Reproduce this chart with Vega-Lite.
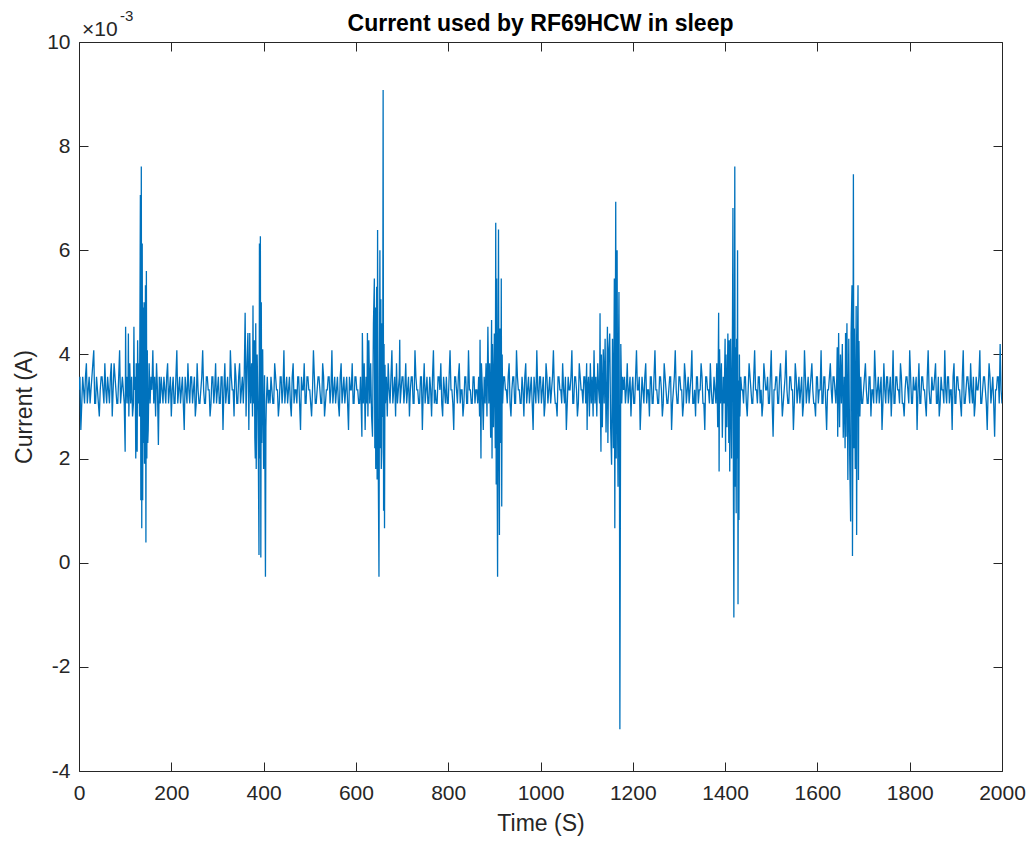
{
 "$schema": "https://vega.github.io/schema/vega-lite/v6.json",
 "width": 923, "height": 729,
 "autosize": "none",
 "padding": {"left": 79, "top": 42, "right": 29, "bottom": 71},
 "background": "white",
 "config": {"view": {"stroke": null},
  "axis": {"domainColor": "#262626", "tickColor": "#262626", "labelColor": "#262626", "titleColor": "#262626", "labelFont": "Liberation Sans", "titleFont": "Liberation Sans", "labelFontSize": 21, "titleFontSize": 23, "titleFontWeight": "normal", "grid": false, "domainWidth": 1, "tickWidth": 1}},
 "data": {"values": [
{"t":0,"i":0.00332},{"t":2,"i":0.00357},{"t":4,"i":0.00255},{"t":6,"i":0.00306},{"t":8,"i":0.00357},{"t":10,"i":0.00332},{"t":12,"i":0.00306},{"t":14,"i":0.00357},{"t":16,"i":0.00383},{"t":18,"i":0.00306},{"t":20,"i":0.00332},{"t":22,"i":0.00357},{"t":24,"i":0.00306},{"t":26,"i":0.00332},{"t":28,"i":0.00357},{"t":30,"i":0.00383},{"t":32,"i":0.00408},{"t":34,"i":0.00306},{"t":36,"i":0.00306},{"t":38,"i":0.00357},{"t":40,"i":0.00332},{"t":42,"i":0.00306},{"t":44,"i":0.00281},{"t":46,"i":0.00332},{"t":48,"i":0.00357},{"t":50,"i":0.00357},{"t":52,"i":0.00332},{"t":54,"i":0.00306},{"t":56,"i":0.00383},{"t":58,"i":0.00332},{"t":60,"i":0.00306},{"t":62,"i":0.00357},{"t":64,"i":0.00332},{"t":66,"i":0.00306},{"t":68,"i":0.00357},{"t":70,"i":0.00383},{"t":72,"i":0.00281},{"t":74,"i":0.00332},{"t":76,"i":0.00383},{"t":78,"i":0.00357},{"t":80,"i":0.00332},{"t":82,"i":0.00306},{"t":84,"i":0.00306},{"t":86,"i":0.00357},{"t":88,"i":0.00408},{"t":90,"i":0.00306},{"t":92,"i":0.00332},{"t":94,"i":0.00357},
{"t":96,"i":0.00332},{"t":98,"i":0.00306},{"t":100,"i":0.00213},{"t":101,"i":0.00453},{"t":102,"i":0.00306},{"t":104,"i":0.00357},{"t":106,"i":0.00306},{"t":107,"i":0.0044},{"t":108,"i":0.00281},{"t":110,"i":0.00383},{"t":112,"i":0.00306},{"t":114,"i":0.00357},{"t":116,"i":0.00281},{"t":118,"i":0.00306},{"t":119,"i":0.00453},{"t":120,"i":0.00332},{"t":122,"i":0.00357},{"t":123,"i":0.002},{"t":124,"i":0.00383},{"t":126,"i":0.00213},{"t":127,"i":0.00427},{"t":128,"i":0.00357},{"t":129,"i":0.00306},{"t":130,"i":0.00383},{"t":131,"i":0.00281},{"t":132,"i":0.00466},{"t":133,"i":0.00706},{"t":134,"i":0.0012},{"t":135,"i":0.00761},{"t":136,"i":0.00066},{"t":137,"i":0.00613},{"t":138,"i":0.0012},{"t":139,"i":0.0049},{"t":140,"i":0.0023},{"t":141,"i":0.005},{"t":142,"i":0.0019},{"t":143,"i":0.0026},{"t":144,"i":0.00533},{"t":145,"i":0.00039},{"t":146,"i":0.0056},{"t":147,"i":0.002},{"t":148,"i":0.00408},{"t":149,"i":0.0023},{"t":150,"i":0.00255},{"t":152,"i":0.00383},{"t":154,"i":0.00306},{"t":156,"i":0.00357},{"t":158,"i":0.00332},{"t":160,"i":0.00408},{"t":162,"i":0.00306},{"t":164,"i":0.00357},{"t":166,"i":0.00281},{"t":168,"i":0.00383},{"t":170,"i":0.00332},{"t":172,"i":0.00226},{"t":174,"i":0.00357},{"t":176,"i":0.00306},{"t":178,"i":0.00357},
{"t":180,"i":0.00332},{"t":182,"i":0.00306},{"t":184,"i":0.00357},{"t":186,"i":0.00332},{"t":188,"i":0.00306},{"t":190,"i":0.00357},{"t":192,"i":0.00383},{"t":194,"i":0.00306},{"t":196,"i":0.00332},{"t":198,"i":0.00357},{"t":200,"i":0.00281},{"t":202,"i":0.00332},{"t":204,"i":0.00357},{"t":206,"i":0.00306},{"t":208,"i":0.00306},{"t":210,"i":0.00357},{"t":212,"i":0.00408},{"t":214,"i":0.00306},{"t":216,"i":0.00332},{"t":218,"i":0.00357},{"t":220,"i":0.00306},{"t":222,"i":0.00332},{"t":224,"i":0.00357},{"t":226,"i":0.00306},{"t":228,"i":0.00255},{"t":230,"i":0.00357},{"t":232,"i":0.00332},{"t":234,"i":0.00306},{"t":236,"i":0.00383},{"t":238,"i":0.00332},{"t":240,"i":0.00306},{"t":242,"i":0.00357},{"t":244,"i":0.00357},{"t":246,"i":0.00306},{"t":248,"i":0.00332},{"t":250,"i":0.00357},{"t":252,"i":0.00281},{"t":254,"i":0.00306},{"t":256,"i":0.00383},{"t":258,"i":0.00332},{"t":260,"i":0.00306},{"t":262,"i":0.00306},{"t":264,"i":0.00332},{"t":266,"i":0.00357},{"t":268,"i":0.00408},{"t":270,"i":0.00332},{"t":272,"i":0.00306},{"t":274,"i":0.00306},{"t":276,"i":0.00357},{"t":278,"i":0.00357},{"t":280,"i":0.00332},{"t":282,"i":0.00332},{"t":284,"i":0.00281},{"t":286,"i":0.00306},{"t":288,"i":0.00357},{"t":290,"i":0.00357},{"t":292,"i":0.00306},{"t":294,"i":0.00332},{"t":296,"i":0.00383},{"t":298,"i":0.00306},{"t":300,"i":0.00332},{"t":302,"i":0.00357},{"t":304,"i":0.00306},{"t":306,"i":0.00306},{"t":308,"i":0.00357},{"t":310,"i":0.00357},{"t":312,"i":0.00255},{"t":314,"i":0.00332},{"t":316,"i":0.00383},{"t":318,"i":0.00306},{"t":320,"i":0.00332},{"t":322,"i":0.00357},{"t":324,"i":0.00306},{"t":326,"i":0.00306},{"t":328,"i":0.00408},{"t":330,"i":0.00357},{"t":332,"i":0.00332},{"t":334,"i":0.00332},{"t":336,"i":0.00281},{"t":338,"i":0.00383},{"t":340,"i":0.00357},{"t":342,"i":0.00306},{"t":344,"i":0.00306},{"t":346,"i":0.00357},{"t":348,"i":0.00383},{"t":350,"i":0.00306},{"t":352,"i":0.00332},{"t":354,"i":0.00357},
{"t":356,"i":0.00306},{"t":358,"i":0.00357},{"t":360,"i":0.0048},{"t":362,"i":0.00281},{"t":364,"i":0.00383},{"t":366,"i":0.00441},{"t":368,"i":0.00255},{"t":370,"i":0.00441},{"t":372,"i":0.00306},{"t":374,"i":0.00383},{"t":376,"i":0.00281},{"t":377,"i":0.00494},{"t":378,"i":0.00306},{"t":380,"i":0.00427},{"t":381,"i":0.0024},{"t":382,"i":0.002},{"t":383,"i":0.0046},{"t":384,"i":0.0018},{"t":386,"i":0.004},{"t":388,"i":0.0029},{"t":390,"i":0.00015},{"t":391,"i":0.00613},{"t":392,"i":0.002},{"t":393,"i":0.00627},{"t":394,"i":0.0001},{"t":395,"i":0.005},{"t":396,"i":0.0023},{"t":398,"i":0.0041},{"t":400,"i":0.0018},{"t":402,"i":0.0036},{"t":404,"i":-0.00027},{"t":405,"i":0.0026},{"t":406,"i":0.0031},{"t":408,"i":0.00357},{"t":410,"i":0.00306},{"t":412,"i":0.00332},{"t":414,"i":0.00306},
{"t":416,"i":0.00357},{"t":418,"i":0.00332},{"t":420,"i":0.00306},{"t":422,"i":0.00306},{"t":424,"i":0.00383},{"t":426,"i":0.00357},{"t":428,"i":0.00332},{"t":430,"i":0.00332},{"t":432,"i":0.00281},{"t":434,"i":0.00306},{"t":436,"i":0.00357},{"t":438,"i":0.00357},{"t":440,"i":0.00306},{"t":442,"i":0.00332},{"t":444,"i":0.00408},{"t":446,"i":0.00306},{"t":448,"i":0.00332},{"t":450,"i":0.00357},{"t":452,"i":0.00306},{"t":454,"i":0.00332},{"t":456,"i":0.00357},{"t":458,"i":0.00306},{"t":460,"i":0.00281},{"t":462,"i":0.00357},{"t":464,"i":0.00383},{"t":466,"i":0.00306},{"t":468,"i":0.00332},{"t":470,"i":0.00332},{"t":472,"i":0.00306},{"t":474,"i":0.00357},{"t":476,"i":0.00357},{"t":478,"i":0.00306},{"t":480,"i":0.00255},{"t":482,"i":0.00357},{"t":484,"i":0.00332},{"t":486,"i":0.00332},{"t":488,"i":0.00383},{"t":490,"i":0.00306},{"t":492,"i":0.00306},{"t":494,"i":0.00357},{"t":496,"i":0.00357},{"t":498,"i":0.00332},{"t":500,"i":0.00332},{"t":502,"i":0.00306},{"t":504,"i":0.00281},{"t":506,"i":0.00332},{"t":508,"i":0.00408},{"t":510,"i":0.00357},{"t":512,"i":0.00306},{"t":514,"i":0.00306},{"t":516,"i":0.00332},{"t":518,"i":0.00357},{"t":520,"i":0.00357},{"t":522,"i":0.00332},{"t":524,"i":0.00306},{"t":526,"i":0.00306},{"t":528,"i":0.00383},{"t":530,"i":0.00357},{"t":532,"i":0.00281},{"t":534,"i":0.00306},{"t":536,"i":0.00332},{"t":538,"i":0.00332},{"t":540,"i":0.00357},{"t":542,"i":0.00357},{"t":544,"i":0.00306},{"t":546,"i":0.00332},{"t":548,"i":0.00408},{"t":550,"i":0.00306},{"t":552,"i":0.00332},{"t":554,"i":0.00357},{"t":556,"i":0.00306},{"t":558,"i":0.00332},{"t":560,"i":0.00357},{"t":562,"i":0.00306},{"t":564,"i":0.00281},{"t":566,"i":0.00357},{"t":568,"i":0.00383},{"t":570,"i":0.00306},{"t":572,"i":0.00332},{"t":574,"i":0.00357},{"t":576,"i":0.00306},{"t":578,"i":0.00332},{"t":580,"i":0.00357},{"t":582,"i":0.00306},{"t":584,"i":0.00255},{"t":586,"i":0.00357},{"t":588,"i":0.00332},{"t":590,"i":0.00332},{"t":592,"i":0.00383},{"t":594,"i":0.00306},{"t":596,"i":0.00306},{"t":598,"i":0.00357},{"t":600,"i":0.00357},{"t":602,"i":0.00332},{"t":604,"i":0.00332},{"t":606,"i":0.00306},
{"t":608,"i":0.00306},{"t":610,"i":0.00357},{"t":612,"i":0.00281},{"t":613,"i":0.00242},{"t":614,"i":0.00441},{"t":616,"i":0.00306},{"t":618,"i":0.00383},{"t":620,"i":0.00255},{"t":622,"i":0.00357},{"t":624,"i":0.00306},{"t":625,"i":0.00441},{"t":626,"i":0.00281},{"t":628,"i":0.00427},{"t":630,"i":0.00306},{"t":632,"i":0.00383},{"t":634,"i":0.00281},{"t":636,"i":0.00242},{"t":638,"i":0.0046},{"t":640,"i":0.00546},{"t":641,"i":0.0022},{"t":642,"i":0.0049},{"t":643,"i":0.0018},{"t":645,"i":0.0053},{"t":646,"i":0.0016},{"t":647,"i":0.00639},{"t":648,"i":0.0025},{"t":650,"i":-0.00027},{"t":651,"i":0.0035},{"t":652,"i":0.006},{"t":653,"i":0.0022},{"t":654,"i":0.00506},{"t":655,"i":0.0018},{"t":656,"i":0.00213},{"t":657,"i":0.0046},{"t":658,"i":0.0028},{"t":659,"i":0.00908},{"t":660,"i":0.001},{"t":661,"i":0.0042},{"t":662,"i":0.00066},{"t":663,"i":0.0038},{"t":664,"i":0.00306},{"t":666,"i":0.00357},{"t":668,"i":0.00281},{"t":670,"i":0.00383},{"t":672,"i":0.00332},{"t":674,"i":0.00306},{"t":676,"i":0.00357},{"t":678,"i":0.00408},{"t":680,"i":0.00306},{"t":682,"i":0.00332},{"t":684,"i":0.00357},{"t":686,"i":0.00281},{"t":688,"i":0.00383},{"t":690,"i":0.00306},{"t":692,"i":0.00332},{"t":694,"i":0.00357},{"t":695,"i":0.00428},{"t":696,"i":0.00306},{"t":698,"i":0.00332},{"t":700,"i":0.00357},
{"t":702,"i":0.00357},{"t":704,"i":0.00306},{"t":706,"i":0.00332},{"t":708,"i":0.00383},{"t":710,"i":0.00306},{"t":712,"i":0.00332},{"t":714,"i":0.00357},{"t":716,"i":0.00281},{"t":718,"i":0.00332},{"t":720,"i":0.00357},{"t":722,"i":0.00357},{"t":724,"i":0.00306},{"t":726,"i":0.00306},{"t":728,"i":0.00408},{"t":730,"i":0.00357},{"t":732,"i":0.00332},{"t":734,"i":0.00332},{"t":736,"i":0.00306},{"t":738,"i":0.00306},{"t":740,"i":0.00357},{"t":742,"i":0.00357},{"t":744,"i":0.00255},{"t":746,"i":0.00332},{"t":748,"i":0.00383},{"t":750,"i":0.00306},{"t":752,"i":0.00332},{"t":754,"i":0.00357},{"t":756,"i":0.00306},{"t":758,"i":0.00306},{"t":760,"i":0.00357},{"t":762,"i":0.00332},{"t":764,"i":0.00281},{"t":766,"i":0.00357},{"t":768,"i":0.00408},{"t":770,"i":0.00306},{"t":772,"i":0.00332},{"t":774,"i":0.00306},{"t":776,"i":0.00306},{"t":778,"i":0.00357},{"t":780,"i":0.00357},{"t":782,"i":0.00332},{"t":784,"i":0.00383},{"t":786,"i":0.00306},{"t":788,"i":0.00281},{"t":790,"i":0.00357},{"t":792,"i":0.00332},{"t":794,"i":0.00306},{"t":796,"i":0.00357},{"t":798,"i":0.00306},{"t":800,"i":0.00306},{"t":802,"i":0.00357},{"t":804,"i":0.00408},{"t":806,"i":0.00332},{"t":808,"i":0.00332},{"t":810,"i":0.00306},{"t":812,"i":0.00255},{"t":814,"i":0.00357},{"t":816,"i":0.00357},{"t":818,"i":0.00332},{"t":820,"i":0.00306},{"t":822,"i":0.00357},{"t":824,"i":0.00383},{"t":826,"i":0.00306},{"t":828,"i":0.00332},{"t":830,"i":0.00332},{"t":832,"i":0.00281},{"t":834,"i":0.00306},{"t":836,"i":0.00357},{"t":838,"i":0.00357},{"t":840,"i":0.00306},{"t":842,"i":0.00306},{"t":844,"i":0.00408},{"t":846,"i":0.00332},{"t":848,"i":0.00332},{"t":850,"i":0.00306},{"t":852,"i":0.00306},{"t":854,"i":0.00357},{"t":856,"i":0.00357},{"t":858,"i":0.00306},{"t":860,"i":0.00332},{"t":862,"i":0.00332},
{"t":864,"i":0.00306},{"t":866,"i":0.00357},{"t":868,"i":0.00281},{"t":869,"i":0.00428},{"t":870,"i":0.00306},{"t":871,"i":0.002},{"t":872,"i":0.00383},{"t":874,"i":0.00332},{"t":876,"i":0.00255},{"t":878,"i":0.00357},{"t":880,"i":0.00306},{"t":882,"i":0.00383},{"t":884,"i":0.00281},{"t":886,"i":0.00453},{"t":888,"i":0.00306},{"t":890,"i":0.00383},{"t":892,"i":0.0024},{"t":894,"i":0.00466},{"t":895,"i":0.002},{"t":896,"i":0.0042},{"t":898,"i":0.0026},{"t":900,"i":0.0044},{"t":902,"i":0.0022},{"t":903,"i":0.00653},{"t":904,"i":0.0015},{"t":905,"i":0.00546},{"t":906,"i":0.002},{"t":907,"i":-0.00027},{"t":908,"i":0.004},{"t":909,"i":0.0064},{"t":910,"i":0.0024},{"t":911,"i":0.00053},{"t":912,"i":0.0045},{"t":914,"i":0.0023},{"t":915,"i":0.00546},{"t":916,"i":0.00108},{"t":917,"i":0.004},{"t":918,"i":0.00306},{"t":920,"i":0.00357},
{"t":922,"i":0.00357},{"t":924,"i":0.00332},{"t":926,"i":0.00332},{"t":928,"i":0.00306},{"t":930,"i":0.00357},{"t":932,"i":0.00383},{"t":934,"i":0.00306},{"t":936,"i":0.00281},{"t":938,"i":0.00332},{"t":940,"i":0.00357},{"t":942,"i":0.00357},{"t":944,"i":0.00306},{"t":946,"i":0.00306},{"t":948,"i":0.00408},{"t":950,"i":0.00357},{"t":952,"i":0.00332},{"t":954,"i":0.00332},{"t":956,"i":0.00306},{"t":958,"i":0.00306},{"t":960,"i":0.00357},{"t":962,"i":0.00332},{"t":964,"i":0.00281},{"t":966,"i":0.00357},{"t":968,"i":0.00383},{"t":970,"i":0.00306},{"t":972,"i":0.00332},{"t":974,"i":0.00357},{"t":976,"i":0.00306},{"t":978,"i":0.00332},{"t":980,"i":0.00357},{"t":982,"i":0.00306},{"t":984,"i":0.00255},{"t":986,"i":0.00357},{"t":988,"i":0.00332},{"t":990,"i":0.00306},{"t":992,"i":0.00408},{"t":994,"i":0.00332},{"t":996,"i":0.00306},{"t":998,"i":0.00357},{"t":1000,"i":0.00357},{"t":1002,"i":0.00306},{"t":1004,"i":0.00332},{"t":1006,"i":0.00357},{"t":1008,"i":0.00281},{"t":1010,"i":0.00306},{"t":1012,"i":0.00383},{"t":1014,"i":0.00357},{"t":1016,"i":0.00306},{"t":1018,"i":0.00332},{"t":1020,"i":0.00357},{"t":1022,"i":0.00306},{"t":1024,"i":0.00332},{"t":1026,"i":0.00357},{"t":1028,"i":0.00408},{"t":1030,"i":0.00332},{"t":1032,"i":0.00306},{"t":1034,"i":0.00306},{"t":1036,"i":0.00281},{"t":1038,"i":0.00357},{"t":1040,"i":0.00357},{"t":1042,"i":0.00332},{"t":1044,"i":0.00332},{"t":1046,"i":0.00306},{"t":1048,"i":0.00383},{"t":1050,"i":0.00332},{"t":1052,"i":0.00306},{"t":1054,"i":0.00357},{"t":1056,"i":0.00255},{"t":1058,"i":0.00306},{"t":1060,"i":0.00357},{"t":1062,"i":0.00332},{"t":1064,"i":0.00332},{"t":1066,"i":0.00357},{"t":1068,"i":0.00408},{"t":1070,"i":0.00306},{"t":1072,"i":0.00306},{"t":1074,"i":0.00357},{"t":1076,"i":0.00357},{"t":1078,"i":0.00332},{"t":1080,"i":0.00281},{"t":1082,"i":0.00306},{"t":1084,"i":0.00383},{"t":1086,"i":0.00357},{"t":1088,"i":0.00332},{"t":1090,"i":0.00332},{"t":1092,"i":0.00306},{"t":1094,"i":0.00357},
{"t":1096,"i":0.00357},{"t":1098,"i":0.00306},{"t":1100,"i":0.00383},{"t":1101,"i":0.00255},{"t":1102,"i":0.00332},{"t":1104,"i":0.00357},{"t":1106,"i":0.00281},{"t":1108,"i":0.00383},{"t":1110,"i":0.00306},{"t":1112,"i":0.00357},{"t":1114,"i":0.00281},{"t":1116,"i":0.00408},{"t":1118,"i":0.00306},{"t":1120,"i":0.00357},{"t":1122,"i":0.00281},{"t":1124,"i":0.00383},{"t":1126,"i":0.00332},{"t":1128,"i":0.00306},{"t":1129,"i":0.00479},{"t":1130,"i":0.0029},{"t":1131,"i":0.00213},{"t":1132,"i":0.004},{"t":1134,"i":0.0026},{"t":1136,"i":0.0041},{"t":1138,"i":0.00306},{"t":1140,"i":0.0043},{"t":1142,"i":0.0025},{"t":1144,"i":0.00357},{"t":1145,"i":0.00453},{"t":1146,"i":0.0023},{"t":1148,"i":0.0041},{"t":1150,"i":0.0044},{"t":1152,"i":0.0026},{"t":1154,"i":0.00188},{"t":1156,"i":0.0043},{"t":1158,"i":0.0022},{"t":1160,"i":0.00546},{"t":1161,"i":0.00066},{"t":1163,"i":0.00693},{"t":1164,"i":0.002},{"t":1166,"i":0.006},{"t":1167,"i":0.0026},{"t":1168,"i":0.00146},{"t":1169,"i":0.004},{"t":1170,"i":0.0052},{"t":1171,"i":0.0025},{"t":1172,"i":-0.0032},{"t":1173,"i":0.00082},{"t":1174,"i":0.0042},{"t":1176,"i":0.00306},{"t":1178,"i":0.00357},{"t":1180,"i":0.00332},
{"t":1182,"i":0.00357},{"t":1184,"i":0.00306},{"t":1186,"i":0.00332},{"t":1188,"i":0.00383},{"t":1190,"i":0.00306},{"t":1192,"i":0.00332},{"t":1194,"i":0.00357},{"t":1196,"i":0.00281},{"t":1198,"i":0.00332},{"t":1200,"i":0.00357},{"t":1202,"i":0.00306},{"t":1204,"i":0.00306},{"t":1206,"i":0.00357},{"t":1208,"i":0.00408},{"t":1210,"i":0.00332},{"t":1212,"i":0.00332},{"t":1214,"i":0.00357},{"t":1216,"i":0.00255},{"t":1218,"i":0.00306},{"t":1220,"i":0.00357},{"t":1222,"i":0.00332},{"t":1224,"i":0.00306},{"t":1226,"i":0.00357},{"t":1228,"i":0.00383},{"t":1230,"i":0.00306},{"t":1232,"i":0.00332},{"t":1234,"i":0.00332},{"t":1236,"i":0.00281},{"t":1238,"i":0.00357},{"t":1240,"i":0.00357},{"t":1242,"i":0.00306},{"t":1244,"i":0.00306},{"t":1246,"i":0.00357},{"t":1248,"i":0.00408},{"t":1250,"i":0.00332},{"t":1252,"i":0.00332},{"t":1254,"i":0.00306},{"t":1256,"i":0.00306},{"t":1258,"i":0.00357},{"t":1260,"i":0.00357},{"t":1262,"i":0.00332},{"t":1264,"i":0.00281},{"t":1266,"i":0.00306},{"t":1268,"i":0.00383},{"t":1270,"i":0.00357},{"t":1272,"i":0.00332},{"t":1274,"i":0.00306},{"t":1276,"i":0.00306},{"t":1278,"i":0.00332},{"t":1280,"i":0.00357},{"t":1282,"i":0.00357},{"t":1284,"i":0.00255},{"t":1286,"i":0.00306},{"t":1288,"i":0.00332},{"t":1290,"i":0.00357},{"t":1292,"i":0.00408},{"t":1294,"i":0.00332},{"t":1296,"i":0.00306},{"t":1298,"i":0.00306},{"t":1300,"i":0.00357},{"t":1302,"i":0.00357},{"t":1304,"i":0.00332},{"t":1306,"i":0.00332},{"t":1308,"i":0.00281},{"t":1310,"i":0.00306},{"t":1312,"i":0.00383},{"t":1314,"i":0.00357},{"t":1316,"i":0.00306},{"t":1318,"i":0.00332},{"t":1320,"i":0.00357},{"t":1322,"i":0.00306},{"t":1324,"i":0.00332},{"t":1326,"i":0.00357},{"t":1328,"i":0.00408},{"t":1330,"i":0.00306},{"t":1332,"i":0.00306},{"t":1334,"i":0.00332},{"t":1336,"i":0.00281},{"t":1338,"i":0.00357},{"t":1340,"i":0.00357},{"t":1342,"i":0.00306},{"t":1344,"i":0.00332},{"t":1346,"i":0.00332},{"t":1348,"i":0.00383},{"t":1350,"i":0.00357},{"t":1352,"i":0.00306},{"t":1354,"i":0.00306},{"t":1356,"i":0.00255},{"t":1358,"i":0.00357},{"t":1360,"i":0.00357},{"t":1362,"i":0.00332},{"t":1364,"i":0.00332},{"t":1366,"i":0.00306},{"t":1368,"i":0.00383},{"t":1370,"i":0.00332},{"t":1372,"i":0.00306},{"t":1374,"i":0.00306},{"t":1376,"i":0.00357},{"t":1378,"i":0.00332},
{"t":1380,"i":0.00306},{"t":1382,"i":0.00383},{"t":1384,"i":0.0026},{"t":1386,"i":0.0048},{"t":1387,"i":0.00175},{"t":1388,"i":0.0041},{"t":1390,"i":0.00306},{"t":1392,"i":0.00383},{"t":1394,"i":0.0024},{"t":1396,"i":0.00357},{"t":1398,"i":0.00306},{"t":1400,"i":0.0043},{"t":1401,"i":0.00213},{"t":1402,"i":0.004},{"t":1404,"i":0.0026},{"t":1406,"i":0.0044},{"t":1408,"i":0.0023},{"t":1409,"i":0.00427},{"t":1410,"i":0.00175},{"t":1412,"i":0.0043},{"t":1414,"i":0.002},{"t":1416,"i":0.0046},{"t":1417,"i":0.00681},{"t":1418,"i":0.0015},{"t":1419,"i":-0.00105},{"t":1420,"i":0.0036},{"t":1421,"i":0.00761},{"t":1422,"i":0.00146},{"t":1423,"i":0.00414},{"t":1424,"i":0.00095},{"t":1425,"i":0.0043},{"t":1426,"i":0.002},{"t":1427,"i":0.006},{"t":1428,"i":-0.0008},{"t":1429,"i":0.0035},{"t":1430,"i":0.00082},{"t":1431,"i":0.004},{"t":1432,"i":0.00281},{"t":1434,"i":0.00357},{"t":1436,"i":0.00332},
{"t":1438,"i":0.00332},{"t":1440,"i":0.00306},{"t":1442,"i":0.00357},{"t":1444,"i":0.00357},{"t":1446,"i":0.00306},{"t":1448,"i":0.00281},{"t":1450,"i":0.00332},{"t":1452,"i":0.00383},{"t":1454,"i":0.00357},{"t":1456,"i":0.00332},{"t":1458,"i":0.00306},{"t":1460,"i":0.00306},{"t":1462,"i":0.00357},{"t":1464,"i":0.00408},{"t":1466,"i":0.00332},{"t":1468,"i":0.00332},{"t":1470,"i":0.00306},{"t":1472,"i":0.00357},{"t":1474,"i":0.00357},{"t":1476,"i":0.00306},{"t":1478,"i":0.00332},{"t":1480,"i":0.00281},{"t":1482,"i":0.00306},{"t":1484,"i":0.00383},{"t":1486,"i":0.00357},{"t":1488,"i":0.00332},{"t":1490,"i":0.00332},{"t":1492,"i":0.00357},{"t":1494,"i":0.00306},{"t":1496,"i":0.00306},{"t":1498,"i":0.00357},{"t":1500,"i":0.00408},{"t":1502,"i":0.00306},{"t":1504,"i":0.00242},{"t":1506,"i":0.00332},{"t":1508,"i":0.00332},{"t":1510,"i":0.00357},{"t":1512,"i":0.00357},{"t":1514,"i":0.00306},{"t":1516,"i":0.00306},{"t":1518,"i":0.00357},{"t":1520,"i":0.00383},{"t":1522,"i":0.00332},{"t":1524,"i":0.00281},{"t":1526,"i":0.00306},{"t":1528,"i":0.00332},{"t":1530,"i":0.00357},{"t":1532,"i":0.00408},{"t":1534,"i":0.00332},{"t":1536,"i":0.00306},{"t":1538,"i":0.00306},{"t":1540,"i":0.00357},{"t":1542,"i":0.00357},{"t":1544,"i":0.00332},{"t":1546,"i":0.00332},{"t":1548,"i":0.00255},{"t":1550,"i":0.00306},{"t":1552,"i":0.00383},{"t":1554,"i":0.00357},{"t":1556,"i":0.00306},{"t":1558,"i":0.00332},{"t":1560,"i":0.00357},{"t":1562,"i":0.00306},{"t":1564,"i":0.00332},{"t":1566,"i":0.00357},{"t":1568,"i":0.00281},{"t":1570,"i":0.00306},{"t":1572,"i":0.00408},{"t":1574,"i":0.00357},{"t":1576,"i":0.00306},{"t":1578,"i":0.00332},{"t":1580,"i":0.00357},{"t":1582,"i":0.00306},{"t":1584,"i":0.00332},{"t":1586,"i":0.00357},{"t":1588,"i":0.00383},{"t":1590,"i":0.00332},{"t":1592,"i":0.00306},{"t":1594,"i":0.00306},{"t":1596,"i":0.00281},{"t":1598,"i":0.00357},{"t":1600,"i":0.00357},{"t":1602,"i":0.00306},{"t":1604,"i":0.00332},{"t":1606,"i":0.00332},{"t":1608,"i":0.00408},{"t":1610,"i":0.00306},{"t":1612,"i":0.00306},{"t":1614,"i":0.00357},{"t":1616,"i":0.00357},{"t":1618,"i":0.00306},{"t":1620,"i":0.00255},{"t":1622,"i":0.00332},{"t":1624,"i":0.00332},{"t":1626,"i":0.00357},{"t":1628,"i":0.00383},{"t":1630,"i":0.00332},{"t":1632,"i":0.00306},{"t":1634,"i":0.00357},{"t":1636,"i":0.00357},{"t":1638,"i":0.00332},
{"t":1640,"i":0.00306},{"t":1642,"i":0.00357},{"t":1643,"i":0.00414},{"t":1644,"i":0.00242},{"t":1646,"i":0.00441},{"t":1648,"i":0.0026},{"t":1650,"i":0.004},{"t":1652,"i":0.00306},{"t":1654,"i":0.0042},{"t":1656,"i":0.0024},{"t":1658,"i":0.00357},{"t":1660,"i":0.0022},{"t":1661,"i":0.00441},{"t":1662,"i":0.00242},{"t":1664,"i":0.0046},{"t":1666,"i":0.00159},{"t":1668,"i":0.0043},{"t":1670,"i":0.002},{"t":1672,"i":0.00079},{"t":1673,"i":0.0044},{"t":1675,"i":0.00533},{"t":1676,"i":0.00013},{"t":1677,"i":0.003},{"t":1678,"i":0.00746},{"t":1679,"i":0.0022},{"t":1680,"i":0.0045},{"t":1682,"i":0.0018},{"t":1684,"i":0.00493},{"t":1685,"i":0.00053},{"t":1686,"i":0.0035},{"t":1688,"i":0.00533},{"t":1689,"i":0.00159},{"t":1690,"i":0.00426},{"t":1692,"i":0.00281},{"t":1694,"i":0.00357},{"t":1696,"i":0.00306},
{"t":1698,"i":0.00306},{"t":1700,"i":0.00332},{"t":1702,"i":0.00357},{"t":1704,"i":0.00383},{"t":1706,"i":0.00332},{"t":1708,"i":0.00306},{"t":1710,"i":0.00306},{"t":1712,"i":0.00357},{"t":1714,"i":0.00357},{"t":1716,"i":0.00281},{"t":1718,"i":0.00332},{"t":1720,"i":0.00332},{"t":1722,"i":0.00306},{"t":1724,"i":0.00408},{"t":1726,"i":0.00357},{"t":1728,"i":0.00306},{"t":1730,"i":0.00332},{"t":1732,"i":0.00357},{"t":1734,"i":0.00306},{"t":1736,"i":0.00332},{"t":1738,"i":0.00357},{"t":1740,"i":0.00255},{"t":1742,"i":0.00306},{"t":1744,"i":0.00383},{"t":1746,"i":0.00332},{"t":1748,"i":0.00306},{"t":1750,"i":0.00357},{"t":1752,"i":0.00357},{"t":1754,"i":0.00306},{"t":1756,"i":0.00332},{"t":1758,"i":0.00357},{"t":1760,"i":0.00281},{"t":1762,"i":0.00332},{"t":1764,"i":0.00408},{"t":1766,"i":0.00306},{"t":1768,"i":0.00306},{"t":1770,"i":0.00357},{"t":1772,"i":0.00357},{"t":1774,"i":0.00332},{"t":1776,"i":0.00332},{"t":1778,"i":0.00306},{"t":1780,"i":0.00383},{"t":1782,"i":0.00357},{"t":1784,"i":0.00306},{"t":1786,"i":0.00306},{"t":1788,"i":0.00281},{"t":1790,"i":0.00332},{"t":1792,"i":0.00357},{"t":1794,"i":0.00357},{"t":1796,"i":0.00332},{"t":1798,"i":0.00306},{"t":1800,"i":0.00408},{"t":1802,"i":0.00357},{"t":1804,"i":0.00306},{"t":1806,"i":0.00306},{"t":1808,"i":0.00357},{"t":1810,"i":0.00332},{"t":1812,"i":0.00332},{"t":1814,"i":0.00357},{"t":1816,"i":0.00255},{"t":1818,"i":0.00332},{"t":1820,"i":0.00383},{"t":1822,"i":0.00306},{"t":1824,"i":0.00306},{"t":1826,"i":0.00357},{"t":1828,"i":0.00357},{"t":1830,"i":0.00332},{"t":1832,"i":0.00332},{"t":1834,"i":0.00306},{"t":1836,"i":0.00281},{"t":1838,"i":0.00357},{"t":1840,"i":0.00408},{"t":1842,"i":0.00332},{"t":1844,"i":0.00306},{"t":1846,"i":0.00306},{"t":1848,"i":0.00357},{"t":1850,"i":0.00332},{"t":1852,"i":0.00332},{"t":1854,"i":0.00357},{"t":1856,"i":0.00383},{"t":1858,"i":0.00306},{"t":1860,"i":0.00306},{"t":1862,"i":0.00357},{"t":1864,"i":0.00281},{"t":1866,"i":0.00306},{"t":1868,"i":0.00357},{"t":1870,"i":0.00332},{"t":1872,"i":0.00332},{"t":1874,"i":0.00306},{"t":1876,"i":0.00408},{"t":1878,"i":0.00332},{"t":1880,"i":0.00306},{"t":1882,"i":0.00357},{"t":1884,"i":0.00357},{"t":1886,"i":0.00306},{"t":1888,"i":0.00332},{"t":1890,"i":0.00332},{"t":1892,"i":0.00255},{"t":1894,"i":0.00357},{"t":1896,"i":0.00383},{"t":1898,"i":0.00306},{"t":1900,"i":0.00306},{"t":1902,"i":0.00357},{"t":1904,"i":0.00357},{"t":1906,"i":0.00332},{"t":1908,"i":0.00332},{"t":1910,"i":0.00306},{"t":1912,"i":0.00281},{"t":1914,"i":0.00357},{"t":1916,"i":0.00408},{"t":1918,"i":0.00306},{"t":1920,"i":0.00306},{"t":1922,"i":0.00332},{"t":1924,"i":0.00357},{"t":1926,"i":0.00357},{"t":1928,"i":0.00332},{"t":1930,"i":0.00306},{"t":1932,"i":0.00383},{"t":1934,"i":0.00332},{"t":1936,"i":0.00306},{"t":1938,"i":0.00357},{"t":1940,"i":0.00281},{"t":1942,"i":0.00306},{"t":1944,"i":0.00357},{"t":1946,"i":0.00332},{"t":1948,"i":0.00332},{"t":1950,"i":0.00357},{"t":1952,"i":0.00408},{"t":1954,"i":0.00306},{"t":1956,"i":0.00306},{"t":1958,"i":0.00332},{"t":1960,"i":0.00357},{"t":1962,"i":0.00357},{"t":1964,"i":0.00332},{"t":1966,"i":0.00306},{"t":1968,"i":0.00255},{"t":1970,"i":0.00332},{"t":1972,"i":0.00383},{"t":1974,"i":0.00357},{"t":1976,"i":0.00306},{"t":1978,"i":0.00332},{"t":1980,"i":0.00357},{"t":1982,"i":0.00306},{"t":1984,"i":0.00242},{"t":1986,"i":0.00332},{"t":1988,"i":0.00332},{"t":1990,"i":0.00357},{"t":1992,"i":0.00357},{"t":1994,"i":0.00306},{"t":1996,"i":0.0042},{"t":1998,"i":0.00332},{"t":2000,"i":0.00306}
 ]},
 "layer": [
  {"mark": {"type": "line", "color": "#0072BD", "strokeWidth": 1.3, "clip": true},
   "encoding": {
    "x": {"field": "t", "type": "quantitative", "scale": {"domain": [0, 2000], "nice": false},
      "axis": {"orient": "bottom", "title": "Time (S)", "values": [0,200,400,600,800,1000,1200,1400,1600,1800,2000], "format": "d", "labelFlush": false, "tickSize": -9, "labelPadding": 20, "titlePadding": 9}},
    "y": {"field": "i", "type": "quantitative", "scale": {"domain": [-0.004, 0.01], "nice": false, "zero": false},
      "axis": {"orient": "left", "title": "Current (A)", "values": [-0.004,-0.002,0,0.002,0.004,0.006,0.008,0.01], "labelExpr": "toString(round(datum.value*1000))", "labelFlush": false, "tickSize": -9, "labelPadding": 18, "titlePadding": 10}}
   }},
  {"mark": {"type": "line", "strokeOpacity": 0},
   "encoding": {
    "x": {"field": "t", "type": "quantitative", "scale": {"domain": [0, 2000], "nice": false},
      "axis": {"orient": "top", "title": null, "labels": false, "labelPadding": 0, "values": [0,200,400,600,800,1000,1200,1400,1600,1800,2000], "tickSize": -9}},
    "y": {"field": "i", "type": "quantitative", "scale": {"domain": [-0.004, 0.01], "nice": false, "zero": false},
      "axis": {"orient": "right", "title": null, "labels": false, "labelPadding": 0, "values": [-0.004,-0.002,0,0.002,0.004,0.006,0.008,0.01], "tickSize": -9}}
   }},
  {"data": {"values": [{"note": "Current used by RF69HCW in sleep"}]},
   "mark": {"type": "text", "align": "center", "baseline": "alphabetic", "dy": -11, "font": "Liberation Sans", "fontSize": 23, "fontWeight": "bold", "color": "#000000"},
   "encoding": {"x": {"datum": 1000, "type": "quantitative", "axis": null}, "y": {"datum": 0.01, "type": "quantitative", "axis": null}, "text": {"field": "note"}}},
  {"data": {"values": [{"note": "×10"}]},
   "mark": {"type": "text", "align": "left", "baseline": "alphabetic", "dx": 3, "dy": -6, "font": "Liberation Sans", "fontSize": 21, "color": "#262626"},
   "encoding": {"x": {"datum": 0, "type": "quantitative", "axis": null}, "y": {"datum": 0.01, "type": "quantitative", "axis": null}, "text": {"field": "note"}}},
  {"data": {"values": [{"note": "-3"}]},
   "mark": {"type": "text", "align": "left", "baseline": "alphabetic", "dx": 41, "dy": -21, "font": "Liberation Sans", "fontSize": 15, "color": "#262626"},
   "encoding": {"x": {"datum": 0, "type": "quantitative", "axis": null}, "y": {"datum": 0.01, "type": "quantitative", "axis": null}, "text": {"field": "note"}}}
 ],
 "resolve": {"axis": {"x": "independent", "y": "independent"}}
}
